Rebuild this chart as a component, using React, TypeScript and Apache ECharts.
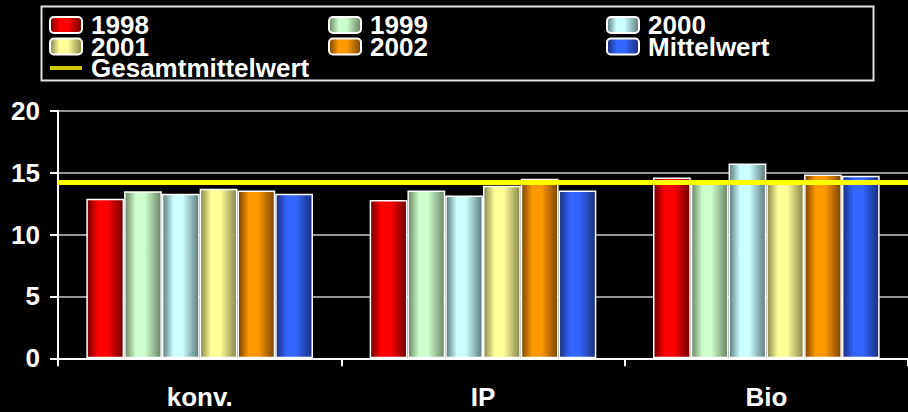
import React, { useEffect, useRef } from "react";
import * as echarts from "echarts";

const categories = ["konv.", "IP", "Bio"];
const seriesNames = ["1998", "1999", "2000", "2001", "2002", "Mittelwert"];
const v1998 = [12.9, 12.8, 14.6];
const v1999 = [13.5, 13.55, 14.2];
const v2000 = [13.3, 13.15, 15.75];
const v2001 = [13.7, 13.95, 14.15];
const v2002 = [13.55, 14.5, 14.85];
const vMittel = [13.3, 13.55, 14.75];
const gesamtmittelwert = 14.23;
const yTicks = [0, 5, 10, 15, 20];

const FONT = "'Liberation Sans', Arial, sans-serif";

const palette: [string, string][] = [
  ["#700000", "#ff0000"],
  ["#6a8466", "#ccffcc"],
  ["#5a7a7a", "#ccffff"],
  ["#86864a", "#ffff99"],
  ["#7a4400", "#ff9900"],
  ["#1a2e7a", "#3366ff"],
];

function grad(dark: string, bright: string) {
  return new echarts.graphic.LinearGradient(0, 0, 1, 0, [
    { offset: 0, color: dark },
    { offset: 0.3, color: bright },
    { offset: 0.55, color: bright },
    { offset: 1, color: dark },
  ]);
}

export default function App() {
  const ref = useRef<HTMLDivElement>(null);
  useEffect(() => {
    if (!ref.current) return;
    const chart = echarts.init(ref.current, undefined, { renderer: "svg" });
    const values = [v1998, v1999, v2000, v2001, v2002, vMittel];
    const bars = seriesNames.map((name, i) => ({
      type: "bar",
      name,
      data: values[i],
      barGap: "0%",
      barCategoryGap: "20%",
      itemStyle: {
        color: grad(palette[i][0], palette[i][1]),
        borderColor: "#ffffff",
        borderWidth: 1.5,
      },
      emphasis: { disabled: true },
    }));
    const legendText = {
      color: "#ffffff",
      fontFamily: FONT,
      fontWeight: "bold",
      fontSize: 26,
      lineHeight: 22,
      padding: [0, 0, 0, 4],
    };
    const legendCommon = {
      orient: "vertical",
      top: 12,
      padding: 0,
      itemGap: -4.5,
      itemWidth: 32,
      itemHeight: 16,
      textStyle: legendText,
      selectedMode: false,
    };
    chart.setOption({
      animation: false,
      backgroundColor: "#000000",
      grid: { left: 58, right: -8, top: 110.8, bottom: 53.7 },
      legend: [
        {
          ...legendCommon,
          left: 49,
          data: [
            "1998",
            "2001",
            { name: "Gesamtmittelwert", icon: "path://M0,0H32V4H0Z" },
          ],
        },
        { ...legendCommon, left: 328, data: ["1999", "2002"] },
        { ...legendCommon, left: 606, data: ["2000", "Mittelwert"] },
      ],
      graphic: [
        {
          type: "rect",
          shape: { x: 41.5, y: 6.5, width: 832, height: 74 },
          style: { fill: "none", stroke: "#e0e0e0", lineWidth: 2 },
          z: 10,
        },
      ],
      xAxis: {
        type: "category",
        data: categories,
        axisLine: { lineStyle: { color: "#ffffff", width: 2 } },
        axisTick: { show: true, length: 8, lineStyle: { color: "#ffffff", width: 2 } },
        axisLabel: {
          color: "#ffffff",
          fontFamily: FONT,
          fontWeight: "bold",
          fontSize: 26,
          margin: 26,
        },
      },
      yAxis: {
        type: "value",
        min: yTicks[0],
        max: yTicks[yTicks.length - 1],
        interval: 5,
        axisLine: { show: true, lineStyle: { color: "#ffffff", width: 2 } },
        axisTick: { show: true, length: 8, lineStyle: { color: "#ffffff", width: 2 } },
        splitLine: { lineStyle: { color: "#c8c8c8", width: 1.5 } },
        axisLabel: {
          color: "#ffffff",
          fontFamily: FONT,
          fontWeight: "bold",
          fontSize: 26,
          margin: 18,
        },
      },
      series: [
        ...bars,
        {
          type: "scatter",
          name: "Gesamtmittelwert",
          data: [],
          itemStyle: { color: "#ffff00" },
          markLine: {
            silent: true,
            symbol: "none",
            z: 5,
            label: { show: false },
            lineStyle: { color: "#ffff00", width: 5, type: "solid" },
            data: [{ yAxis: gesamtmittelwert }],
          },
        },
      ],
    });
    return () => chart.dispose();
  }, []);
  return (
    <div
      ref={ref}
      style={{ position: "absolute", left: 0, top: 0, width: 908, height: 412 }}
    />
  );
}
